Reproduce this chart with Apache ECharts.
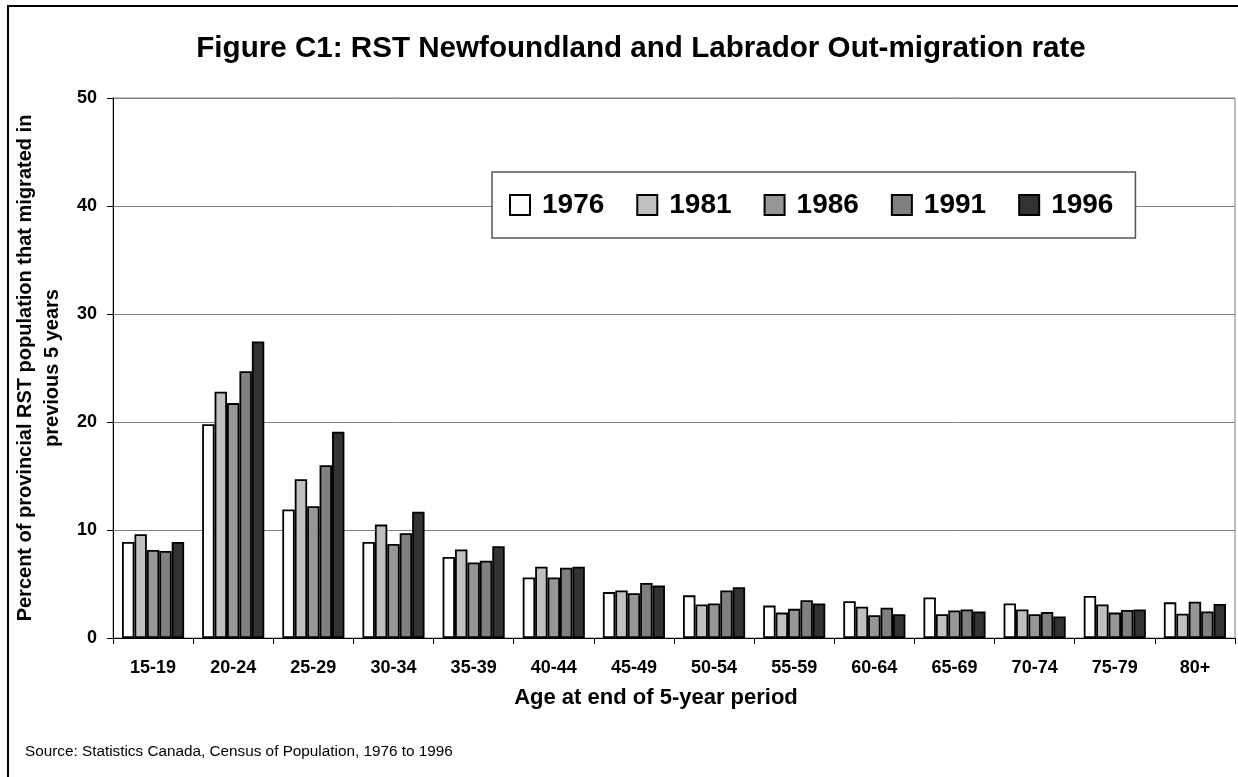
<!DOCTYPE html>
<html>
<head>
<meta charset="utf-8">
<script src="https://cdn.jsdelivr.net/npm/echarts@6/dist/echarts.min.js"></script>
<style>
html,body{margin:0;padding:0;background:#fff;}
#chart{width:1238px;height:777px;}
</style>
</head>
<body>
<div id="chart"></div>
<script>
const categories = ['15-19','20-24','25-29','30-34','35-39','40-44','45-49','50-54','55-59','60-64','65-69','70-74','75-79','80+'];
const seriesNames = ['1976','1981','1986','1991','1996'];
const v1976 = [8.9, 19.8, 11.9, 8.9, 7.5, 5.6, 4.25, 3.95, 3.0, 3.4, 3.75, 3.2, 3.9, 3.3];
const v1981 = [9.6, 22.8, 14.7, 10.5, 8.2, 6.6, 4.4, 3.1, 2.35, 2.9, 2.2, 2.65, 3.1, 2.25];
const v1986 = [8.15, 21.75, 12.2, 8.7, 7.0, 5.6, 4.15, 3.2, 2.7, 2.1, 2.55, 2.2, 2.35, 3.35];
const v1991 = [8.05, 24.7, 16.0, 9.7, 7.15, 6.5, 5.1, 4.4, 3.5, 2.8, 2.65, 2.4, 2.6, 2.45];
const v1996 = [8.9, 27.45, 19.1, 11.7, 8.5, 6.6, 4.85, 4.7, 3.2, 2.2, 2.45, 2.0, 2.65, 3.15];
const seriesValues = [v1976, v1981, v1986, v1991, v1996];
const colors = ['#ffffff', '#c0c0c0', '#969696', '#808080', '#333333'];

const FONT = "'Liberation Sans', Arial, Helvetica, sans-serif";

const chart = echarts.init(document.getElementById('chart'), null, {renderer: 'canvas'});

const series = seriesNames.map((name, i) => ({
  name: name,
  type: 'bar',
  data: seriesValues[i],
  barGap: '0%',
  barCategoryGap: '22.5%',
  itemStyle: {color: colors[i], borderColor: '#000', borderWidth: 1.8},
  emphasis: {disabled: true},
  animation: false
}));

chart.setOption({
  animation: false,
  backgroundColor: '#ffffff',
  textStyle: {fontFamily: FONT},
  grid: {
    left: 113, right: 3, top: 98, bottom: 139,
    containLabel: false,
    outerBoundsMode: 'none',
    show: true, borderColor: '#808080', borderWidth: 1, backgroundColor: 'transparent'
  },
  legend: {
    data: seriesNames,
    left: 492, top: 172,
    orient: 'horizontal',
    icon: 'rect',
    itemWidth: 20, itemHeight: 20,
    itemGap: 32,
    padding: [19, 22, 19, 17],
    borderColor: '#555555', borderWidth: 1.5,
    backgroundColor: '#ffffff',
    selectedMode: false,
    textStyle: {fontFamily: FONT, fontWeight: 'bold', fontSize: 28, color: '#000', padding: [0, 0, 0, 7]}
  },
  xAxis: {
    type: 'category',
    data: categories,
    axisLine: {lineStyle: {color: '#000', width: 1}},
    axisTick: {show: true, length: 6, lineStyle: {color: '#000'}},
    axisLabel: {fontFamily: FONT, fontWeight: 'bold', fontSize: 18, color: '#000', margin: 21, interval: 0},
    splitLine: {show: false}
  },
  yAxis: {
    type: 'value',
    min: 0, max: 50, interval: 10,
    name: 'Percent of provincial RST population that migrated in\nprevious 5 years',
    nameLocation: 'middle',
    nameRotate: 90,
    nameGap: 41,
    nameTextStyle: {fontFamily: FONT, fontWeight: 'bold', fontSize: 20, color: '#000', lineHeight: 27},
    axisLine: {show: true, lineStyle: {color: '#000', width: 1}},
    axisTick: {show: true, length: 6, lineStyle: {color: '#000'}},
    axisLabel: {fontFamily: FONT, fontWeight: 'bold', fontSize: 18, color: '#000', margin: 16},
    splitLine: {show: true, lineStyle: {color: '#808080', width: 1}}
  },
  series: series,
  graphic: [
    {
      type: 'rect', silent: true, z: 100,
      shape: {x: 8, y: 6, width: 1400, height: 900},
      style: {fill: 'none', stroke: '#000', lineWidth: 2}
    },
    {
      type: 'text', silent: true,
      x: 641, y: 49,
      style: {text: 'Figure C1: RST Newfoundland and Labrador Out-migration rate', fontFamily: FONT, fontWeight: 'bold', fontSize: 29.6, fill: '#000', textAlign: 'center', textVerticalAlign: 'middle'}
    },
    {
      type: 'text', silent: true,
      x: 656, y: 698,
      style: {text: 'Age at end of 5-year period', fontFamily: FONT, fontWeight: 'bold', fontSize: 22, fill: '#000', textAlign: 'center', textVerticalAlign: 'middle'}
    },
    {
      type: 'text', silent: true,
      x: 25, y: 752,
      style: {text: 'Source: Statistics Canada, Census of Population, 1976 to 1996', fontFamily: FONT, fontSize: 15.3, fill: '#000', textAlign: 'left', textVerticalAlign: 'middle'}
    }
  ]
});
</script>
</body>
</html>
